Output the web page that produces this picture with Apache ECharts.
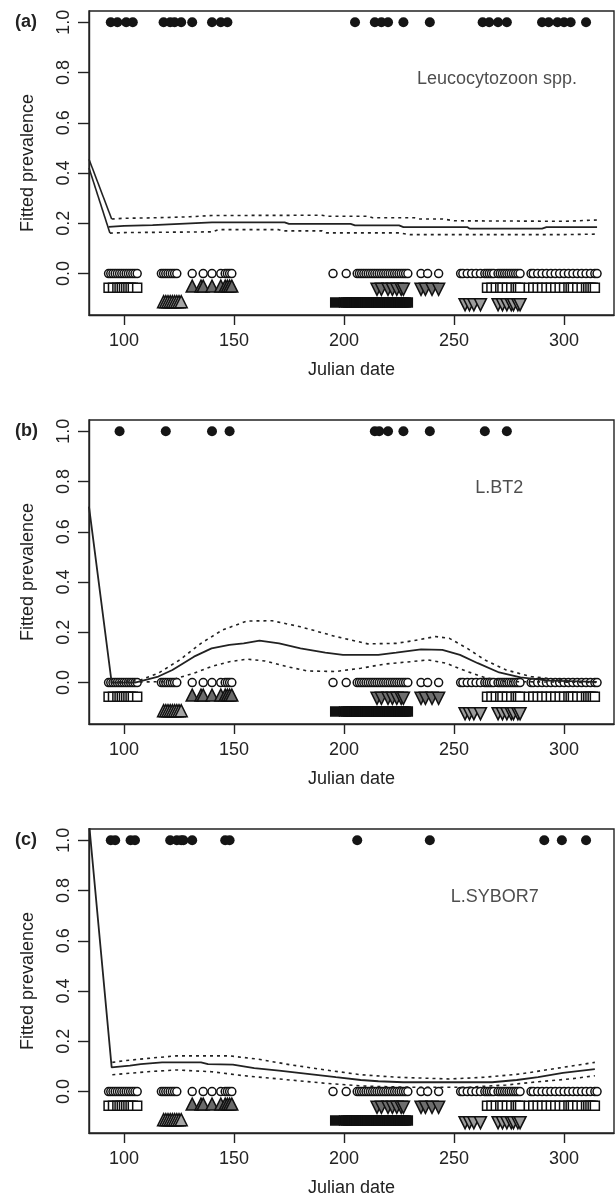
<!DOCTYPE html>
<html>
<head>
<meta charset="utf-8">
<script src="https://cdn.jsdelivr.net/npm/echarts@6/dist/echarts.min.js"></script>
<style>
html,body{margin:0;padding:0;background:#fff;}
#chart{width:615px;height:1202px;}
</style>
</head>
<body>
<div id="chart"></div>
<script>
// ---------- axes ----------
const xTicks = [100, 150, 200, 250, 300];
const yTicks = [0, 0.2, 0.4, 0.6, 0.8, 1.0];
const xMin = 84.1, xMax = 322.7;
const yMin = -0.165, yMax = 1.045;

// ---------- sampling-date rows (same in every panel) ----------
const rowOpenCircle = 0;
const rowUpper = -0.057;
const rowLower = -0.115;
const uninfectedDates = [93,94,95,96,97,98,99,100,101,102,103,104,105,106,
  117,118,119,120,121,122,123,124,
  131,136,140,144,146,147,148,149,
  195,201,206,207,208,209,210,211,212,213,214,215,216,217,218,219,220,221,222,223,224,225,226,227,228,229,
  235,238,243,
  253,254,256,258,260,262,264,265,266,267,268,270,271,272,273,274,275,276,277,278,279,280,
  285,286,288,290,292,294,296,298,300,302,304,306,308,310,312,314,315];
const openSquareDates = [93,95,97,98,99,100,101,102,103,104,106,
  265,267,269,271,272,274,276,278,279,280,
  284,286,288,290,292,294,296,298,300,302,303,304,306,308,310,311,312,313,314];
const upTriDarkDates = [131,135,136,140,144,146,147,148,149];
const upTriLightDates = [118,119,120,121,122,123,124,125,126];
const solidSquareDates = [196,200,201,202,203,204,205,206,207,208,209,210,211,212,213,214,215,216,217,218,219,220,221,222,223,224,225,226,227,228,229];
const downTriDarkDates = [215,217,220,222,224,226,227,235,237,240,243];
const downTriLightDates = [255,257,259,262,270,272,274,276,277,279,280];

// ---------- panel (a) Leucocytozoon spp. ----------
const infectedA = [94,97,101,104,118,121,123,126,131,140,144,147,205,214,217,220,227,239,263,266,270,274,290,293,297,300,303,310];
const fitA = [[93,0.186],[100,0.19],[113,0.193],[140,0.204],[173,0.204],[175,0.198],[203,0.198],[205,0.192],[225,0.192],[227,0.185],[256,0.185],[257,0.179],[290,0.179],[292,0.185],[315,0.185]];
const upperA = [[84.1,0.455],[94.4,0.217],[100,0.22],[115,0.222],[130,0.226],[140,0.231],[190,0.232],[192,0.228],[211,0.228],[213,0.222],[232,0.222],[234,0.217],[245,0.217],[250,0.21],[300,0.208],[315,0.213]];
const lowerA = [[84.1,0.42],[93.6,0.161],[100,0.163],[140,0.166],[143,0.175],[170,0.175],[172,0.17],[190,0.17],[192,0.162],[225,0.162],[230,0.155],[300,0.155],[315,0.157]];

// ---------- panel (b) L.BT2 ----------
const infectedB = [98,119,140,148,214,216,220,227,239,264,274];
const fitB = [[84.1,0.70],[94.4,0.0],[105,0.0],[115.6,0.024],[122,0.05],[131.8,0.103],[139.8,0.136],[147.9,0.15],[154.4,0.156],[161.6,0.167],[170.5,0.156],[180.2,0.136],[191.5,0.119],[199.5,0.11],[215.6,0.11],[223.7,0.119],[235,0.132],[244.7,0.13],[252.7,0.11],[260.8,0.077],[270.5,0.04],[280.2,0.021],[293,0.008],[314.8,0.003]];
const upperB = [[94.4,0.0],[100,0.005],[108,0.012],[115.6,0.037],[125.3,0.09],[135,0.156],[144.7,0.209],[156,0.245],[167.3,0.246],[180.2,0.222],[196.3,0.183],[210.8,0.154],[223.7,0.156],[231.8,0.167],[241.5,0.183],[247.9,0.176],[256,0.136],[264,0.09],[273.7,0.05],[285,0.024],[304.4,0.004],[315,0.003]];
const lowerB = [[94.4,0.0],[118.9,0.004],[131.8,0.037],[139.8,0.064],[147.9,0.083],[156,0.093],[164,0.086],[173.7,0.064],[183.4,0.046],[196.3,0.044],[207.6,0.057],[218.9,0.074],[230.2,0.083],[238.2,0.09],[246.3,0.077],[256,0.044],[264,0.02],[273.7,0.004],[315,0.0]];

// ---------- panel (c) L.SYBOR7 ----------
const infectedC = [94,96,103,105,121,124,126,127,131,146,148,206,239,291,299,310];
const fitC = [[84.1,1.07],[94.4,0.096],[102.7,0.103],[107.6,0.109],[117.3,0.116],[135,0.116],[138.2,0.109],[149.5,0.107],[159.2,0.093],[170.5,0.083],[183.4,0.07],[196.3,0.057],[207.6,0.046],[215.6,0.041],[226.9,0.037],[267.3,0.037],[278.5,0.046],[288.2,0.057],[299.5,0.074],[314,0.089]];
const upperC = [[94.7,0.116],[99.5,0.122],[110.8,0.132],[123.7,0.142],[147.9,0.142],[160.8,0.129],[175.3,0.107],[191.5,0.086],[207.6,0.067],[223.7,0.057],[247.9,0.05],[264,0.057],[280.2,0.07],[296.3,0.092],[314,0.116]];
const lowerC = [[94.7,0.067],[110.8,0.079],[123.7,0.086],[139.8,0.079],[154.4,0.063],[170.5,0.05],[191.5,0.033],[210.8,0.021],[231.8,0.017],[256,0.017],[273.7,0.026],[288.2,0.039],[302.7,0.05],[314,0.063]];

// ---------- labels ----------
const panelLetters = ['(a)', '(b)', '(c)'];
const parasiteNames = ['Leucocytozoon spp.', 'L.BT2', 'L.SYBOR7'];
const nameAnchors = [[269.5, 0.776], [270.5, 0.776], [268.5, 0.776]];
const xTitle = 'Julian date';
const yTitle = 'Fitted prevalence';

// ---------- build ----------
const FONT = '"Liberation Sans", Arial, Helvetica, sans-serif';
const INK = '#222';
const panels = [
  {top: 11, infected: infectedA, fit: fitA, upper: upperA, lower: lowerA},
  {top: 420, infected: infectedB, fit: fitB, upper: upperB, lower: lowerB},
  {top: 829, infected: infectedC, fit: fitC, upper: upperC, lower: lowerC}
];
const plotH = 304;

const grids = [], xAxes = [], yAxes = [], series = [], titles = [];
function pts(dates, y) { return dates.map(d => [d, y]); }

panels.forEach((p, i) => {
  grids.push({left: 89, width: 525, top: p.top, height: plotH, show: true,
    borderColor: INK, borderWidth: 1.4, backgroundColor: 'transparent'});
  xAxes.push({type: 'value', gridIndex: i, min: xMin, max: xMax,
    name: xTitle, nameLocation: 'middle', nameGap: 46,
    nameTextStyle: {fontFamily: FONT, fontSize: 18, color: INK},
    axisLine: {show: true, onZero: false, lineStyle: {color: INK, width: 1.4}},
    axisTick: {show: true, length: 10, customValues: xTicks, lineStyle: {color: INK, width: 1.4}},
    axisLabel: {show: true, customValues: xTicks, margin: 17, fontFamily: FONT, fontSize: 18, color: INK},
    splitLine: {show: false}});
  yAxes.push({type: 'value', gridIndex: i, min: yMin, max: yMax,
    name: yTitle, nameLocation: 'middle', nameGap: 52,
    nameTextStyle: {fontFamily: FONT, fontSize: 18, color: INK},
    axisLine: {show: true, onZero: false, lineStyle: {color: INK, width: 1.4}},
    axisTick: {show: true, length: 11, customValues: yTicks, lineStyle: {color: INK, width: 1.4}},
    axisLabel: {show: true, customValues: yTicks, rotate: 90, margin: 16, fontFamily: FONT, fontSize: 18, color: INK,
      formatter: v => Number(v).toFixed(1)},
    splitLine: {show: false}});

  const ax = {xAxisIndex: i, yAxisIndex: i};
  const sc = (data, symbol, size, fill, border, rotate, bw) => Object.assign({
    type: 'scatter', data: data, symbol: symbol, symbolSize: size, symbolRotate: rotate || 0,
    itemStyle: {color: fill, borderColor: border, borderWidth: bw === undefined ? 1.5 : bw, opacity: 1},
    silent: true, z: 3, animation: false, clip: false}, ax);

  // sampling rows
  series.push(sc(pts(uninfectedDates, rowOpenCircle), 'circle', 8, '#fff', '#111'));
  series.push(sc(pts(openSquareDates, rowUpper), 'rect', 9, '#fff', '#111'));
  series.push(sc(pts(upTriDarkDates, rowUpper + 0.007), 'triangle', 12, '#6a6a6a', '#111'));
  series.push(sc(pts(upTriLightDates, rowLower + 0.003), 'triangle', 12, '#a6a6a6', '#111'));
  series.push(sc(pts(solidSquareDates, rowLower), 'rect', 9, '#111', '#111'));
  series.push(sc(pts(downTriDarkDates, rowUpper - 0.006), 'triangle', 12, '#6e6e6e', '#111', 180));
  series.push(sc(pts(downTriLightDates, rowLower - 0.009), 'triangle', 12, '#9c9c9c', '#111', 180));
  // infected birds
  series.push(sc(pts(p.infected, 1.0), 'circle', 10, '#151515', '#151515', 0, 0));

  // fitted curve and confidence limits
  const line = (data, type, w) => Object.assign({type: 'line', data: data, showSymbol: false, symbol: 'none',
    lineStyle: {color: INK, width: w, type: type}, silent: true, z: 4, animation: false, clip: true}, ax);
  [p.upper, p.lower].forEach(arr => {
    if (arr[0][0] < 90) {
      series.push(line(arr.slice(0, 2), 'solid', 1.6));
      series.push(line(arr.slice(1), [3, 4], 1.6));
    } else {
      series.push(line(arr, [3, 4], 1.6));
    }
  });
  series.push(line(p.fit, 'solid', 1.8));

  // parasite name
  series.push(Object.assign({type: 'scatter', data: [{value: nameAnchors[i], name: parasiteNames[i]}],
    symbolSize: 0, silent: true, animation: false, z: 5,
    label: {show: true, position: 'inside', formatter: '{b}', fontFamily: FONT, fontSize: 18, color: INK}}, ax));

  titles.push({text: panelLetters[i], left: 15, top: p.top + 2, padding: 0,
    textStyle: {fontFamily: FONT, fontSize: 18, fontWeight: 'bold', color: INK}});
});

const chart = echarts.init(document.getElementById('chart'), null, {renderer: 'canvas'});
chart.setOption({
  animation: false,
  backgroundColor: '#fff',
  title: titles,
  grid: grids,
  xAxis: xAxes,
  yAxis: yAxes,
  series: series
});
</script>
</body>
</html>
